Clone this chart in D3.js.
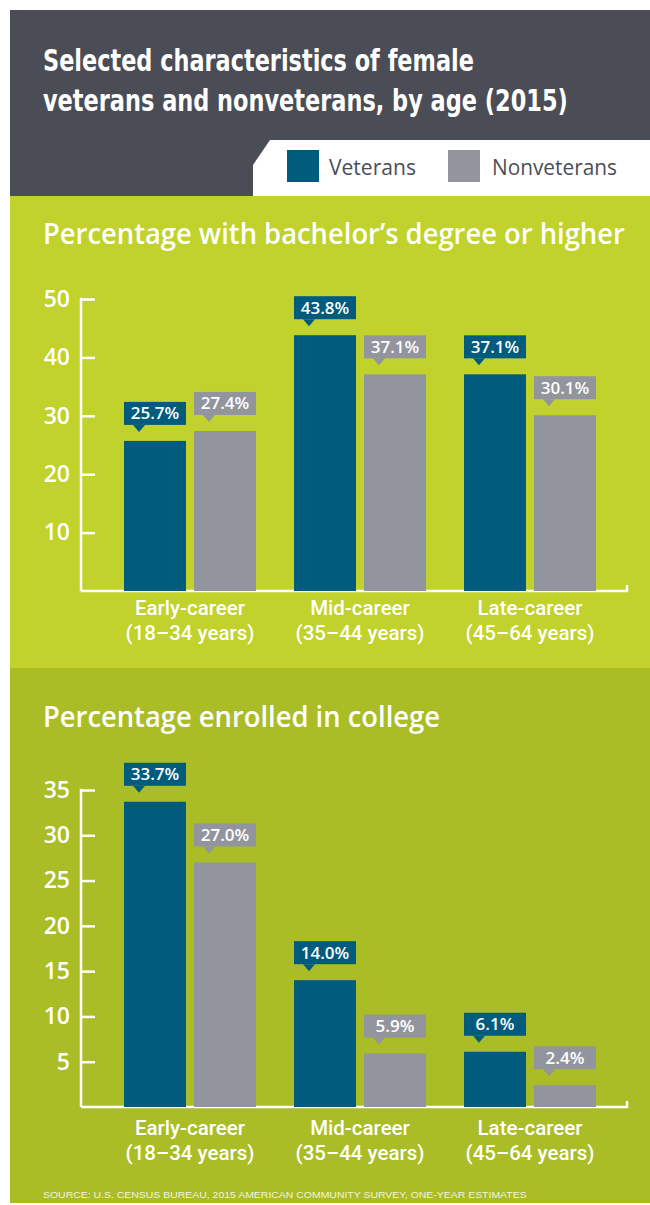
<!DOCTYPE html>
<html><head><meta charset="utf-8">
<script src="https://cdn.jsdelivr.net/npm/d3@7"></script>
<style>body{margin:0;background:#fff}svg{display:block}</style>
</head><body>
<svg id="c" width="650" height="1205"></svg>
<script>
const categories = ["Early-career", "Mid-career", "Late-career"];
const ageRanges = ["(18–34 years)", "(35–44 years)", "(45–64 years)"];
const seriesNames = ["Veterans", "Nonveterans"];
const bachelorVeterans = [25.7, 43.8, 37.1];
const bachelorNonveterans = [27.4, 37.1, 30.1];
const enrolledVeterans = [33.7, 14.0, 6.1];
const enrolledNonveterans = [27.0, 5.9, 2.4];
const bachelorTicks = [10, 20, 30, 40, 50];
const enrolledTicks = [5, 10, 15, 20, 25, 30, 35];

const colors = {Veterans: "#005b7d", Nonveterans: "#92959d"};
const svg = d3.select("#c");
const CONDENSED = "'DejaVu Sans Condensed','Liberation Sans Narrow',sans-serif";
const SANS = "'Open Sans','DejaVu Sans Condensed',sans-serif";

// place a text at (x,y) and scale it horizontally so it spans width w
function placed(parent, x, y, str, attrs, w) {
  const g = parent.append("g");
  const t = g.append("text").attr("x", 0).attr("y", 0).text(str);
  Object.entries(attrs).forEach(([k, v]) => t.attr(k, v));
  const len = t.node().getComputedTextLength();
  const s = w ? w / len : 1;
  g.attr("transform", `translate(${x},${y}) scale(${s},1)`);
  return t;
}

// backgrounds
svg.append("rect").attr("x", 10).attr("y", 10).attr("width", 640).attr("height", 186).attr("fill", "#4a4d56");
svg.append("rect").attr("x", 10).attr("y", 196).attr("width", 640).attr("height", 472).attr("fill", "#c0d22b");
svg.append("rect").attr("x", 10).attr("y", 668).attr("width", 640).attr("height", 535).attr("fill", "#aabd26");

// title
const titleAttrs = {"fill": "#fff", "font-family": CONDENSED, "font-weight": "bold", "font-size": 31};
placed(svg, 43, 71, "Selected characteristics of female", titleAttrs, 431);
placed(svg, 43, 111, "veterans and nonveterans, by age (2015)", titleAttrs, 525);

// legend box
svg.append("path").attr("d", "M253,196 L253,165 L270,140 L650,140 L650,196 Z").attr("fill", "#fff");
const legX = [287, 448], legTX = [329, 492], legW = [87, 125];
seriesNames.forEach((s, i) => {
  svg.append("rect").attr("x", legX[i]).attr("y", 150).attr("width", 32).attr("height", 32).attr("fill", colors[s]);
  placed(svg, legTX[i], 175, s, {"fill": "#4a4e57", "font-family": SANS, "font-size": 21}, legW[i]);
});

function drawChart(opts) {
  const {top, base, maxV, ticks, vet, non, titleY, title, titleW, labelY} = opts;
  placed(svg, 43, titleY, title, {"fill": "#fff", "font-family": SANS, "font-weight": 600, "font-size": 29}, titleW);

  const y = d3.scaleLinear().domain([0, maxV]).range([base, top]);
  const x0 = d3.scaleBand().domain(categories).range([124, 596]).paddingInner(38 / 170).paddingOuter(0);
  const x1 = d3.scaleBand().domain(seriesNames).range([0, x0.bandwidth()]).paddingInner(8 / 70).paddingOuter(0);

  const g = svg.append("g");
  // y axis
  const ax = d3.axisLeft(y).tickValues(ticks).tickSize(-14).tickPadding(11).tickFormat(d3.format("d"));
  const ag = g.append("g").attr("transform", "translate(81,0)").call(ax);
  ag.select(".domain").remove();
  ag.selectAll("line").attr("stroke", "#fff").attr("stroke-width", 2.5);
  ag.selectAll("text").attr("fill", "#fff").attr("font-family", SANS).attr("font-size", 23).attr("font-weight", 600);
  g.append("line").attr("x1", 81).attr("x2", 81).attr("y1", y(maxV) - 1.2).attr("y2", base).attr("stroke", "#fff").attr("stroke-width", 2.5);
  g.append("path").attr("d", `M81,${base} L627,${base} L627,${base - 6}`).attr("fill", "none").attr("stroke", "#fff").attr("stroke-width", 2.5);

  const data = [];
  categories.forEach((c, i) => {
    data.push({c, s: "Veterans", v: vet[i]});
    data.push({c, s: "Nonveterans", v: non[i]});
  });
  // bars
  g.selectAll(".bar").data(data).join("rect")
    .attr("x", d => x0(d.c) + x1(d.s)).attr("width", x1.bandwidth())
    .attr("y", d => y(d.v)).attr("height", d => base - y(d.v)).attr("fill", d => colors[d.s]);
  // callouts
  data.forEach(d => {
    const bx = x0(d.c) + x1(d.s), bw = x1.bandwidth();
    const bb = y(d.v) - 16, bh = 23;
    g.append("rect").attr("x", bx).attr("y", bb - bh).attr("width", bw).attr("height", bh).attr("fill", colors[d.s]);
    g.append("path").attr("d", `M${bx + 9},${bb} L${bx + 21},${bb} L${bx + 15},${bb + 7} Z`).attr("fill", colors[d.s]);
    g.append("text").attr("x", bx + bw / 2).attr("y", bb - 5.5).attr("text-anchor", "middle").attr("fill", "#fff")
      .attr("font-family", SANS).attr("font-weight", 600).attr("font-size", 17).text(d.v.toFixed(1) + "%");
  });
  // category labels
  categories.forEach((c, i) => {
    const cx = x0(c) + x0.bandwidth() / 2;
    [c, ageRanges[i]].forEach((str, k) => {
      g.append("text").attr("x", cx).attr("y", labelY + k * 24.5).attr("text-anchor", "middle").attr("fill", "#fff")
        .attr("font-family", "Roboto,'DejaVu Sans Condensed',sans-serif").attr("font-weight", 500)
        .attr("font-size", 20.5).text(str);
    });
  });
}

drawChart({top: 299, base: 591, maxV: 50, ticks: bachelorTicks, vet: bachelorVeterans, non: bachelorNonveterans,
  titleY: 244, title: "Percentage with bachelor’s degree or higher", titleW: 582, labelY: 615});
drawChart({top: 790, base: 1107, maxV: 35, ticks: enrolledTicks, vet: enrolledVeterans, non: enrolledNonveterans,
  titleY: 727, title: "Percentage enrolled in college", titleW: 397, labelY: 1135});

placed(svg, 43, 1198, "SOURCE: U.S. CENSUS BUREAU, 2015 AMERICAN COMMUNITY SURVEY, ONE-YEAR ESTIMATES",
  {"fill": "#f2f5d8", "font-family": "'Liberation Sans',Arial,sans-serif", "font-size": 9.5}, 484);
</script>
</body></html>
